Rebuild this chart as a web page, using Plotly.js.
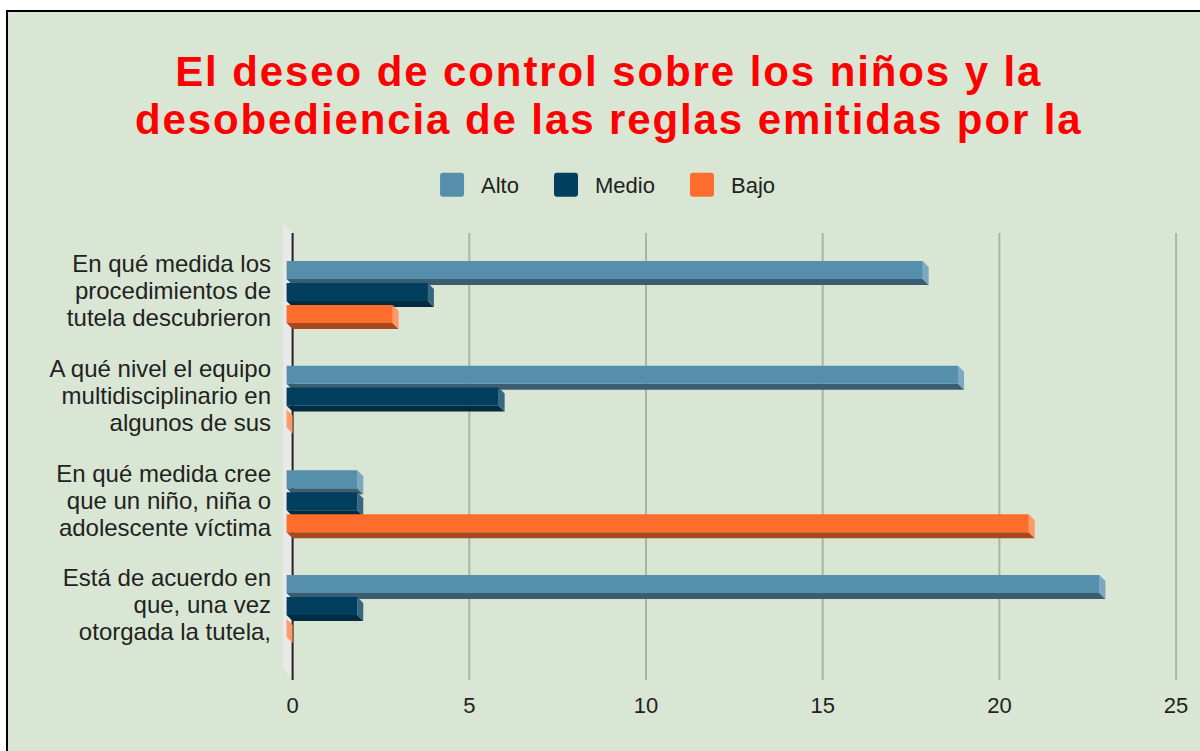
<!DOCTYPE html>
<html>
<head>
<meta charset="utf-8">
<script src="https://cdn.plot.ly/plotly-3.0.1.min.js"></script>
<style>
  html, body { margin: 0; padding: 0; background: #ffffff; overflow: hidden; width: 1200px; height: 751px; }
  #frame { position: absolute; left: 6px; top: 10px; border-left: 2px solid #000; border-top: 2px solid #000; }
  #chart { width: 1192px; height: 739px; }
  .gtitle { letter-spacing: 1.9px; }
  .legendpoints path { d: path('M-9,-12H9A3,3 0 0 1 12,-9V9A3,3 0 0 1 9,12H-9A3,3 0 0 1 -12,9V-9A3,3 0 0 1 -9,-12Z'); }
</style>
</head>
<body>
<div id="frame"><div id="chart"></div></div>
<script>
// ---- data ----
const categories = [
  "En qué medida los<br>procedimientos de<br>tutela descubrieron",
  "A qué nivel el equipo<br>multidisciplinario en<br>algunos de sus",
  "En qué medida cree<br>que un niño, niña o<br>adolescente víctima",
  "Está de acuerdo en<br>que, una vez<br>otorgada la tutela,"
];
const seriesNames = ["Alto", "Medio", "Bajo"];
const alto  = [18, 19, 2, 23];
const medio = [4, 6, 2, 2];
const bajo  = [3, 0, 21, 0];
const xTicks = [0, 5, 10, 15, 20, 25];

// ---- styling ----
const frontColors  = ["#568fab", "#023f5e", "#ff6d2d"];
const bottomColors = ["#3b5d71", "#012b40", "#a9481f"];
const sideColors   = ["#7ba8c1", "#386880", "#ff9a68"];
const seriesValues = [alto, medio, bajo];
const barOffsets = [-0.325, -0.115, 0.095];
const barWidth = 0.172;
const dx = 0.17;    // depth in x units
const dy = 0.0573;  // depth in category units
const font = "Liberation Sans, Arial, sans-serif";
const legendIds = ["legend", "legend2", "legend3"];
const legendX = [0.3482, 0.4438, 0.5579];

const traces = seriesNames.map((name, s) => ({
  type: "bar",
  orientation: "h",
  name: name,
  legend: legendIds[s],
  y: categories,
  x: seriesValues[s],
  base: seriesValues[s].map(() => -dx),
  width: barWidth,
  offset: barOffsets[s],
  marker: { color: frontColors[s], line: { width: 0 } },
  hoverinfo: "skip"
}));

const shapes = [];
// back wall left of axis
shapes.push({
  type: "path", xref: "x", yref: "paper", layer: "between",
  path: "M-0.272,1 L0,0.980 L0,0 L-0.272,0.026 Z",
  fillcolor: "#e9e9e9", line: { width: 0 }
});
// gridlines
xTicks.filter(t => t > 0).forEach(t => shapes.push({
  type: "line", xref: "x", yref: "paper", layer: "between",
  x0: t, x1: t, y0: 0, y1: 0.980,
  line: { color: "#a9b6a3", width: 2 }
}));
// axis line at zero (behind the bars)
shapes.push({
  type: "line", xref: "x", yref: "paper", layer: "between",
  x0: 0, x1: 0, y0: 0, y1: 0.980,
  line: { color: "#222222", width: 2 }
});
// 3D faces
seriesValues.forEach((vals, s) => {
  vals.forEach((v, i) => {
    const yt = i + barOffsets[s];
    const yb = yt + barWidth;
    if (v > 0) {
      shapes.push({
        type: "path", xref: "x", yref: "y", layer: "between",
        path: `M${-dx},${yb} L${v - dx},${yb} L${v},${yb + dy} L0,${yb + dy} Z`,
        fillcolor: bottomColors[s], line: { width: 0 }
      });
    }
    shapes.push({
      type: "path", xref: "x", yref: "y", layer: "between",
      path: `M${v - dx},${yt} L${v},${yt + dy} L${v},${yb + dy} L${v - dx},${yb} Z`,
      fillcolor: sideColors[s], line: { width: 0 }
    });
  });
});

const layout = {
  width: 1192, height: 739,
  paper_bgcolor: "#d9e6d4",
  plot_bgcolor: "#d9e6d4",
  margin: { l: 274, r: 22, t: 212, b: 71, pad: 0 },
  font: { family: font, color: "#222222" },
  title: {
    text: "El deseo de control sobre los niños y la<br>desobediencia de las reglas emitidas por la",
    font: { family: font, size: 42, color: "#ff0000", weight: "bold" },
    x: 0.504, xref: "container", xanchor: "center",
    y: 0.9004, yref: "container", yanchor: "middle"
  },
  showlegend: true,
  barmode: "overlay",
  xaxis: {
    range: [-0.3, 25.054],
    autorange: false,
    tickvals: xTicks,
    ticktext: xTicks.map(String),
    showgrid: false,
    zeroline: false,
    showline: false,
    ticks: "",
    ticklabelstandoff: 10,
    tickfont: { family: font, size: 22, color: "#222222" },
    fixedrange: true
  },
  yaxis: {
    type: "category",
    categoryorder: "array",
    categoryarray: categories,
    range: [3.678, -0.678],
    autorange: false,
    showgrid: false,
    zeroline: false,
    showline: false,
    ticks: "",
    ticklabelstandoff: 10,
    tickfont: { family: font, size: 24, color: "#222222" },
    fixedrange: true
  },
  shapes: shapes
};
legendIds.forEach((id, s) => {
  layout[id] = {
    orientation: "h",
    x: legendX[s], xref: "container", xanchor: "left",
    y: 0.766, yref: "container", yanchor: "middle",
    font: { family: font, size: 22, color: "#222222" },
    bgcolor: "rgba(0,0,0,0)",
    itemwidth: 48
  };
});

// tighten multi-line spacing (line k placed k*em below the first line)
function tightenLines(selector, em) {
  document.querySelectorAll(selector).forEach(t => {
    t.querySelectorAll("tspan.line").forEach((ts, k) => {
      if (k > 0) ts.setAttribute("dy", (k * em).toFixed(3) + "em");
    });
  });
}

Plotly.newPlot("chart", traces, layout, { displayModeBar: false, staticPlot: true }).then(() => {
  tightenLines(".ytick text", 1.13);
  tightenLines(".gtitle", 1.155);
});
</script>
</body>
</html>
